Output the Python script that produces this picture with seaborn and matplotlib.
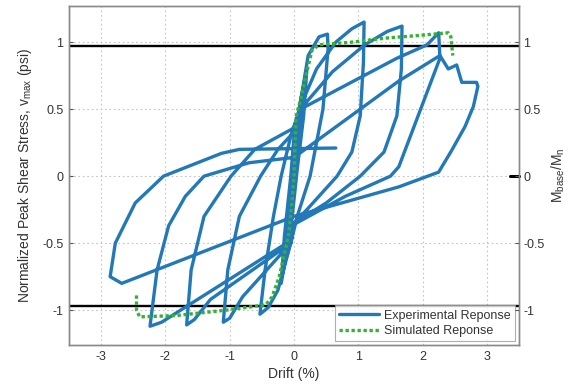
import numpy as np
import pandas as pd
import matplotlib
matplotlib.use("Agg")
import matplotlib.pyplot as plt
import seaborn as sns

# ---------------- data ----------------
exp_drift = [
    0.00, 0.05, 0.12, 0.08, 0.00, -0.06, -0.12, -0.08, 0.00,
    0.08, 0.20, 0.15, 0.05, -0.05, -0.20, -0.15, -0.05, 0.00,
    # cycle 1
    0.10, 0.22, 0.39, 0.52, 0.53, 0.45, 0.25, 0.05, -0.05, -0.25, -0.40, -0.53,
    -0.45, -0.32, -0.20, -0.05,
    # cycle 2
    0.10, 0.35, 0.65, 0.90, 1.09, 1.08, 1.03, 0.90, 0.67, 0.20, 0.00, -0.05, -0.80, -1.00, -1.10,
    -1.03, -0.85, -0.52, -0.25, 0.00,
    # cycle 3
    0.10, 0.60, 1.10, 1.45, 1.68, 1.67, 1.60, 1.40, 1.03, 0.50, 0.00, -0.05, -1.30, -1.55, -1.67,
    -1.60, -1.40, -0.98, -0.61, 0.00,
    # cycle 4
    0.10, 1.60, 2.07, 2.25, 2.27, 1.63, 1.50, 0.80, 0.00, -0.05, -2.06, -2.24,
    -2.13, -1.95, -1.69, -1.40, -0.70, 0.00,
    # final cycle
    1.63, 2.27, 2.40, 2.53, 2.61, 2.84, 2.86, 2.79, 2.66, 2.45, 2.25, 1.63, 0.00,
    -2.68, -2.86, -2.78, -2.47, -2.03, -1.13, -0.85, 0.65,
]
exp_stress = [
    0.00, 0.35, 0.60, 0.30, 0.05, -0.35, -0.60, -0.30, 0.10,
    0.50, 0.80, 0.45, 0.05, -0.40, -0.80, -0.45, 0.00, 0.30,
    # cycle 1
    0.55, 0.90, 1.04, 1.06, 0.95, 0.50, 0.00, -0.30, -0.50, -0.85, -0.98, -1.03,
    -0.70, -0.30, 0.00, 0.30,
    # cycle 2
    0.52, 0.80, 1.00, 1.10, 1.15, 0.85, 0.45, 0.18, 0.00, -0.25, -0.35, -0.50, -0.90, -1.06, -1.09,
    -0.70, -0.30, 0.00, 0.20, 0.33,
    # cycle 3
    0.50, 0.78, 0.98, 1.08, 1.12, 0.80, 0.45, 0.18, 0.00, -0.20, -0.35, -0.50, -0.92, -1.07, -1.11,
    -0.70, -0.30, 0.00, 0.20, 0.36,
    # cycle 4
    0.50, 0.88, 0.98, 1.07, 0.88, 0.07, 0.00, -0.15, -0.36, -0.48, -1.09, -1.12,
    -0.70, -0.37, -0.15, 0.00, 0.10, 0.14,
    # final cycle
    0.71, 0.90, 0.80, 0.83, 0.70, 0.70, 0.67, 0.52, 0.37, 0.19, 0.03, -0.08, -0.30,
    -0.80, -0.75, -0.50, -0.20, 0.00, 0.17, 0.20, 0.21,
]

sim_drift = [-2.45, -2.45, -2.40, -1.83, -1.06, -0.44, -0.34, -0.23, -0.08, -0.03,
             0.00, 0.03, 0.10, 0.18, 0.28, 0.39, 0.90, 1.42, 1.94, 2.40, 2.44, 2.47]
sim_stress = [-0.89, -1.00, -1.05, -1.04, -1.00, -0.96, -0.90, -0.75, -0.43, -0.18,
              0.00, 0.44, 0.57, 0.74, 0.94, 0.98, 1.00, 1.03, 1.05, 1.07, 1.04, 0.90]

capacity_levels = [0.97, -0.97]
x_ticks = [-3, -2, -1, 0, 1, 2, 3]
y_ticks = [-1, -0.5, 0, 0.5, 1]
y_ticklabels = ["-1", "-0.5", "0", "0.5", "1"]

# ---------------- style ----------------
sns.set_theme(style="white")
plt.rcParams["font.family"] = ["Liberation Sans", "DejaVu Sans"]
plt.rcParams["mathtext.fontset"] = "custom"
plt.rcParams["mathtext.rm"] = "Liberation Sans"
plt.rcParams["mathtext.it"] = "Liberation Sans"
plt.rcParams["axes.unicode_minus"] = False

BLUE = "#2378b8"
GREEN = "#35b135"
TXT = "#333333"
SPINE = "#8a8a8a"

fig = plt.figure(figsize=(5.77, 3.86), dpi=100)
ax = fig.add_axes([0.1196, 0.1062, 0.7799, 0.8783])

for lvl in capacity_levels:
    ax.axhline(lvl, color="black", lw=1.7, zorder=1.5)

df_exp = pd.DataFrame({"Drift": exp_drift, "Stress": exp_stress})
df_sim = pd.DataFrame({"Drift": sim_drift, "Stress": sim_stress})

sns.lineplot(data=df_exp, x="Drift", y="Stress", sort=False, estimator=None,
             ax=ax, color=BLUE, lw=2.4, label="Experimental Reponse", zorder=3)
sns.lineplot(data=df_sim, x="Drift", y="Stress", sort=False, estimator=None,
             ax=ax, color=GREEN, lw=2.4, linestyle=(0, (1, 0.8)),
             label="Simulated Reponse", zorder=4)

ax.set_xlim(-3.5, 3.5)
ax.set_ylim(-1.26, 1.27)
ax.set_xticks(x_ticks)
ax.set_xticklabels([str(t) for t in x_ticks])
ax.set_yticks(y_ticks)
ax.set_yticklabels(y_ticklabels)
ax.grid(True, linestyle=(0, (1.5, 2.5)), color="#c4c4c4", lw=0.8)
ax.tick_params(direction="in", length=3, width=0.8, color="#555555",
               labelcolor=TXT, labelsize=9, pad=4)
for s in ax.spines.values():
    s.set_color(SPINE)
    s.set_linewidth(1.0)

ax.set_xlabel("Drift (%)", fontsize=10, color=TXT, labelpad=3)
ax.set_ylabel("Normalized Peak Shear Stress, v$_{max}$ (psi)", fontsize=10,
              color=TXT, labelpad=6)

# short dark mark at the right edge on the zero level
ax.plot([3.36, 3.5], [0, 0], color="black", lw=2.2, zorder=5, clip_on=False)

ax2 = ax.twinx()
ax2.set_ylim(ax.get_ylim())
ax2.set_yticks(y_ticks)
ax2.set_yticklabels(y_ticklabels)
ax2.tick_params(direction="in", length=3, width=0.8, color="#555555",
                labelcolor=TXT, labelsize=9, pad=3)
for s in ax2.spines.values():
    s.set_color(SPINE)
    s.set_linewidth(1.0)
ax2.set_ylabel("M$_{base}$/M$_n$", fontsize=10, color=TXT, labelpad=4)

leg = ax.legend(loc="lower right", fontsize=9, frameon=True, fancybox=False,
                edgecolor="#9a9a9a", borderaxespad=0.3, handlelength=3.2,
                handletextpad=0.4, borderpad=0.35, labelspacing=0.25)
leg.get_frame().set_linewidth(0.8)
for t in leg.get_texts():
    t.set_color(TXT)
leg.set_zorder(10)

fig.savefig("out.png", dpi=100)
